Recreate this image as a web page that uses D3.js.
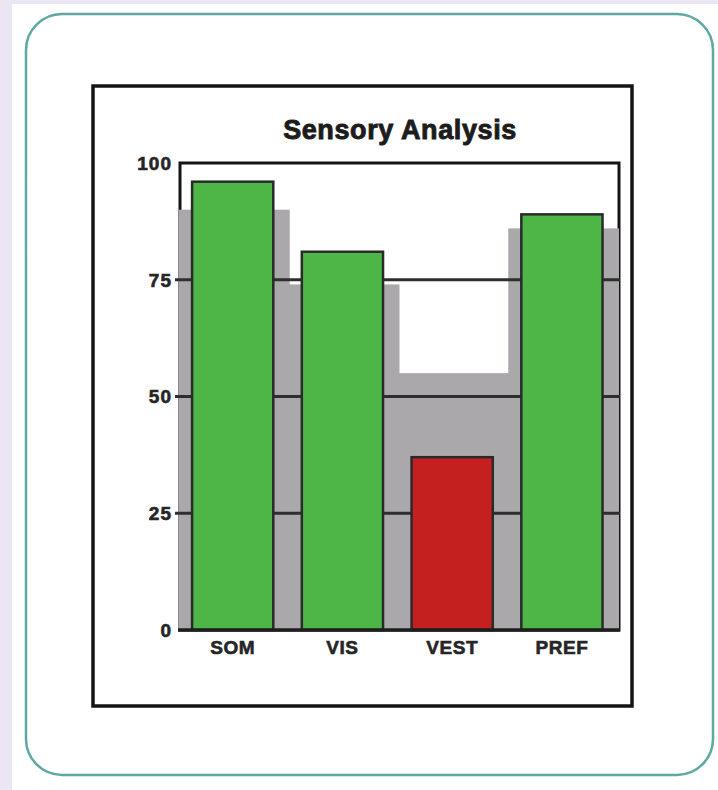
<!DOCTYPE html>
<html>
<head>
<meta charset="utf-8">
<script src="https://cdn.jsdelivr.net/npm/d3@7/dist/d3.min.js"></script>
<style>
  html, body { margin: 0; padding: 0; background: #ffffff; }
  svg { display: block; }
  text { font-family: "Liberation Sans", Arial, Helvetica, sans-serif; font-weight: bold; }
</style>
</head>
<body>
<script>
// Sensory analysis scores per domain
const categories = ["SOM", "VIS", "VEST", "PREF"];
const scores = [96, 81, 37, 89];          // measured score (foreground bars)
const reference = [90, 74, 55, 86];       // reference band (grey bars behind)
const barColors = ["#4db647", "#4db647", "#c3201f", "#4db647"];
const yTicks = [0, 25, 50, 75, 100];
const gridTicks = [25, 50, 75];
const title = "Sensory Analysis";

const W = 718, H = 790;
const svg = d3.select("body").append("svg").attr("width", W).attr("height", H);

// page background and card
svg.append("rect").attr("width", W).attr("height", H).attr("fill", "#ffffff");
svg.append("rect").attr("x", 0).attr("y", 0).attr("width", 12).attr("height", H).attr("fill", "#ece6f4");
svg.append("rect").attr("x", 0).attr("y", 0).attr("width", W).attr("height", 4).attr("fill", "#ece6f4");
svg.append("rect")
  .attr("x", 26).attr("y", 14).attr("width", 687).attr("height", 761)
  .attr("rx", 36).attr("ry", 36)
  .attr("fill", "#ffffff").attr("stroke", "#5ea9a2").attr("stroke-width", 2.5);

// chart frame
svg.append("rect")
  .attr("x", 93).attr("y", 86).attr("width", 539).attr("height", 620)
  .attr("fill", "#ffffff").attr("stroke", "#141414").attr("stroke-width", 3.5);

svg.append("text")
  .attr("x", 400).attr("y", 139)
  .attr("text-anchor", "middle")
  .attr("font-size", 27)
  .attr("letter-spacing", 0.6)
  .attr("fill", "#1c1c1c")
  .attr("stroke", "#1c1c1c").attr("stroke-width", 0.9)
  .text(title);

// scales
const plot = { left: 180, right: 619, top: 163, bottom: 630 };
const x = d3.scaleBand().domain(categories).range([plot.left, plot.right]).padding(0);
const y = d3.scaleLinear().domain([0, 100]).range([plot.bottom, plot.top]);

// plot border
svg.append("rect")
  .attr("x", plot.left).attr("y", y(100))
  .attr("width", plot.right - plot.left).attr("height", y(0) - y(100))
  .attr("fill", "none").attr("stroke", "#141414").attr("stroke-width", 3);

// grey reference bars, full band width
svg.append("g").selectAll("rect")
  .data(categories)
  .join("rect")
  .attr("x", d => x(d) - 1)
  .attr("width", x.bandwidth() + 1)
  .attr("y", (d, i) => y(reference[i]))
  .attr("height", (d, i) => y(0) - y(reference[i]))
  .attr("fill", "#aba8ab");

// gridlines
svg.append("g").selectAll("line")
  .data(gridTicks)
  .join("line")
  .attr("x1", plot.left - 5).attr("x2", plot.right + 1)
  .attr("y1", d => y(d)).attr("y2", d => y(d))
  .attr("stroke", "#2e2e2e").attr("stroke-width", 3);

// score bars
const inset = x.bandwidth() * 0.11;
const barW = x.bandwidth() * 0.74;
svg.append("g").selectAll("rect")
  .data(categories)
  .join("rect")
  .attr("x", d => x(d) + inset)
  .attr("width", barW)
  .attr("y", (d, i) => y(scores[i]))
  .attr("height", (d, i) => y(0) - y(scores[i]))
  .attr("fill", (d, i) => barColors[i])
  .attr("stroke", "#2a2a2a").attr("stroke-width", 2.5);

// baseline
svg.append("line")
  .attr("x1", plot.left - 2).attr("x2", plot.right + 1)
  .attr("y1", y(0)).attr("y2", y(0))
  .attr("stroke", "#1e1e1e").attr("stroke-width", 3.5);

// y tick labels
svg.append("g").selectAll("text")
  .data(yTicks)
  .join("text")
  .attr("x", plot.left - 8)
  .attr("y", d => y(d))
  .attr("dy", "0.36em")
  .attr("text-anchor", "end")
  .attr("font-size", 19)
  .attr("letter-spacing", 1)
  .attr("fill", "#262626")
  .attr("stroke", "#262626").attr("stroke-width", 0.6)
  .text(d => d);

// category labels
svg.append("g").selectAll("text")
  .data(categories)
  .join("text")
  .attr("x", d => x(d) + inset + barW / 2)
  .attr("y", plot.bottom + 24)
  .attr("text-anchor", "middle")
  .attr("font-size", 19)
  .attr("letter-spacing", 0.5)
  .attr("fill", "#262626")
  .attr("stroke", "#262626").attr("stroke-width", 0.6)
  .text(d => d);
</script>
</body>
</html>
